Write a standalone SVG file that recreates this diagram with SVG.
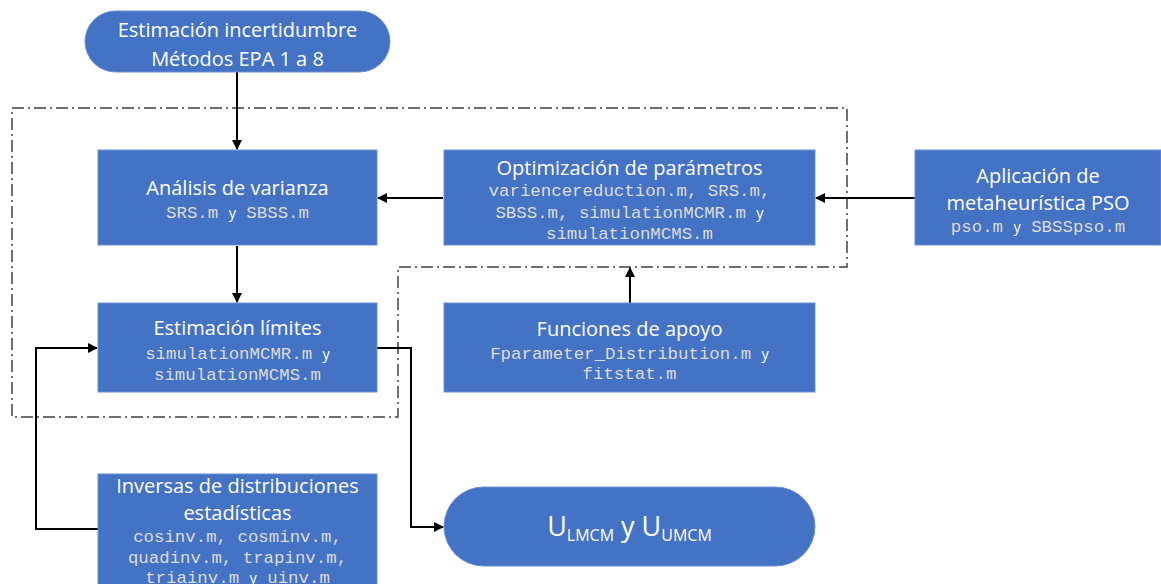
<svg xmlns="http://www.w3.org/2000/svg" width="1161" height="584" viewBox="0 0 1161 584">
<defs>
<marker id="arr" viewBox="0 0 10 10" refX="9" refY="5" markerWidth="5" markerHeight="5" orient="auto-start-reverse">
<path d="M0,0 L10,5 L0,10 z" fill="#000"/>
</marker>
<style>
.box{fill:#4472C4;stroke:#6a8fd0;stroke-width:1}
.t{font-family:"Open Sans","Noto Sans",sans-serif;font-size:20px;fill:#fff;text-anchor:middle}
.c{font-family:"Liberation Mono","Courier New",monospace;font-size:17.4px;fill:#dcdcdc;text-anchor:middle}
.y{font-family:"Open Sans","Noto Sans",sans-serif;fill:#fff;font-size:14.5px}
.ln{fill:none;stroke:#000;stroke-width:2}
.dash{fill:none;stroke:#404040;stroke-width:1.5;stroke-dasharray:12,4,2,4}
</style>
</defs>
<rect width="1161" height="584" fill="#fff"/>

<g id="boundary">
<path class="dash" d="M12,108 H847 V267 H398 V417 H12 Z"/>
</g>

<g id="connectors">
<line class="ln" x1="237" y1="72" x2="237" y2="149" marker-end="url(#arr)"/>
<line class="ln" x1="237" y1="246" x2="237" y2="302" marker-end="url(#arr)"/>
<line class="ln" x1="443" y1="198" x2="378" y2="198" marker-end="url(#arr)"/>
<line class="ln" x1="915" y1="198" x2="816" y2="198" marker-end="url(#arr)"/>
<line class="ln" x1="630" y1="303" x2="630" y2="268" marker-end="url(#arr)"/>
<polyline class="ln" points="377,348 411,348 411,527 443,527" marker-end="url(#arr)"/>
<polyline class="ln" points="98,529 36,529 36,348 97,348" marker-end="url(#arr)"/>
</g>

<g id="start">
<rect class="box" x="85" y="11" width="305" height="61" rx="30.5" ry="30.5"/>
<text class="t" x="237.5" y="37">Estimación incertidumbre</text>
<text class="t" x="237.5" y="66">Métodos EPA 1 a 8</text>
</g>

<g id="analisis">
<rect class="box" x="98" y="150" width="279" height="95"/>
<text class="t" x="237.5" y="195">Análisis de varianza</text>
<text class="c" x="237.5" y="218">SRS.m <tspan class="y">y</tspan> SBSS.m</text>
</g>

<g id="optimizacion">
<rect class="box" x="444" y="150" width="371" height="95"/>
<text class="t" x="629.5" y="175">Optimización de parámetros</text>
<text class="c" x="629.5" y="196">variencereduction.m, SRS.m,</text>
<text class="c" x="629.5" y="218">SBSS.m, simulationMCMR.m <tspan class="y">y</tspan></text>
<text class="c" x="629.5" y="238.5">simulationMCMS.m</text>
</g>

<g id="pso">
<rect class="box" x="915" y="150" width="246" height="95"/>
<text class="t" x="1038" y="183">Aplicación de</text>
<text class="t" x="1038" y="210">metaheurística PSO</text>
<text class="c" x="1038" y="232">pso.m <tspan class="y">y</tspan> SBSSpso.m</text>
</g>

<g id="limites">
<rect class="box" x="98" y="303" width="279" height="89"/>
<text class="t" x="237.5" y="335">Estimación límites</text>
<text class="c" x="237.5" y="359">simulationMCMR.m <tspan class="y">y</tspan></text>
<text class="c" x="237.5" y="379.5">simulationMCMS.m</text>
</g>

<g id="apoyo">
<rect class="box" x="444" y="303" width="371" height="89"/>
<text class="t" x="629.5" y="336">Funciones de apoyo</text>
<text class="c" x="629.5" y="359">Fparameter_Distribution.m <tspan class="y">y</tspan></text>
<text class="c" x="629.5" y="379">fitstat.m</text>
</g>

<g id="inversas">
<rect class="box" x="98" y="474" width="279" height="120"/>
<text class="t" x="237.5" y="493">Inversas de distribuciones</text>
<text class="t" x="237.5" y="520">estadísticas</text>
<text class="c" x="237.5" y="542">cosinv.m, cosminv.m,</text>
<text class="c" x="237.5" y="562.5">quadinv.m, trapinv.m,</text>
<text class="c" x="237.5" y="583">triainv.m <tspan class="y">y</tspan> uinv.m</text>
</g>

<g id="resultado">
<rect class="box" x="444" y="487" width="371" height="79" rx="39.5" ry="39.5"/>
<text x="629.5" y="536" font-family="Open Sans, Noto Sans, sans-serif" font-size="27" fill="#fff" text-anchor="middle">U<tspan font-size="16" dy="5">LMCM</tspan><tspan dy="-5"> y U</tspan><tspan font-size="16" dy="5">UMCM</tspan></text>
</g>
</svg>
